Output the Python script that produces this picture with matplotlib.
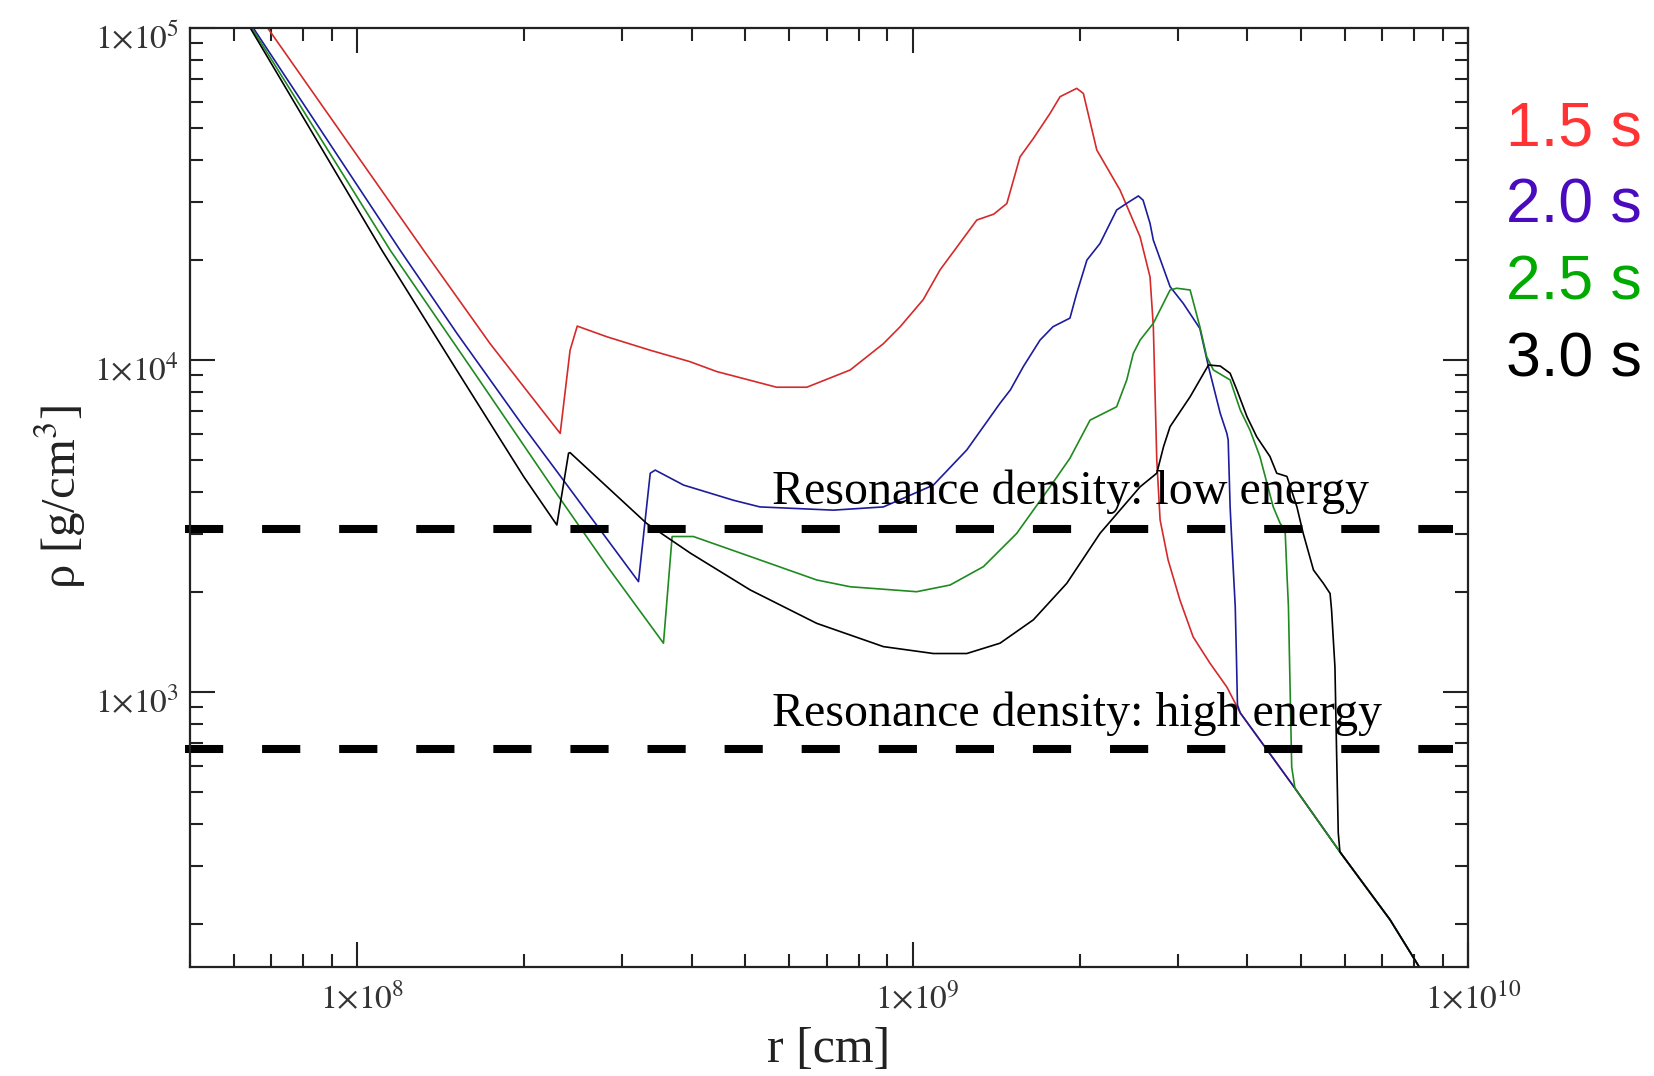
import matplotlib
matplotlib.use('Agg')
import matplotlib.pyplot as plt
from matplotlib.ticker import LogLocator, FuncFormatter, NullFormatter
from matplotlib.transforms import ScaledTranslation
import numpy as np

plt.rcParams['font.family'] = ['Liberation Serif', 'DejaVu Serif']
plt.rcParams['mathtext.fontset'] = 'stix'
plt.rcParams['lines.scale_dashes'] = False

# density profiles, r in cm, rho in g/cm^3
r_15 = [6.9e7, 1.317e8, 1.735e8, 2.32e8, 2.417e8, 2.49e8, 2.815e8, 3.37e8, 3.97e8, 4.44e8,
        5.69e8, 6.45e8, 7.72e8, 8.86e8, 9.5e8, 1.045e9, 1.121e9, 1.305e9, 1.40e9, 1.478e9,
        1.561e9, 1.65e9, 1.768e9, 1.843e9, 1.975e9, 2.03e9, 2.146e9, 2.363e9, 2.568e9, 2.676e9,
        2.713e9, 2.752e9, 2.79e9, 2.884e9, 3.03e9, 3.20e9, 3.43e9, 3.68e9, 3.89e9, 4.88e9,
        5.88e9, 7.24e9, 8.14e9]
rho_15 = [1.0e5, 21400, 11200, 6010, 10700, 12650, 11750, 10700, 9890, 9230,
          8280, 8280, 9330, 11200, 12600, 15200, 18700, 26400, 27500, 29600,
          40900, 46500, 55300, 62100, 65800, 63500, 42900, 32500, 23500, 17800,
          12600, 5000, 3300, 2500, 1890, 1465, 1222, 1035, 865, 513,
          330, 206, 150]

r_20 = [6.5e7, 1.195e8, 1.512e8, 1.993e8, 2.35e8, 3.21e8, 3.37e8, 3.44e8, 3.87e8, 4.76e8,
        5.31e8, 7.2e8, 8.86e8, 1.09e9, 1.252e9, 1.437e9, 1.50e9, 1.583e9, 1.696e9, 1.79e9,
        1.92e9, 1.975e9, 2.06e9, 2.175e9, 2.33e9, 2.43e9, 2.55e9, 2.60e9, 2.676e9, 2.713e9,
        2.908e9, 3.07e9, 3.29e9, 3.41e9, 3.58e9, 3.68e9, 3.70e9, 3.73e9, 3.755e9, 3.81e9,
        3.83e9, 3.845e9, 3.89e9, 4.88e9, 5.88e9, 7.24e9, 8.14e9]
rho_20 = [1.0e5, 21400, 12030, 6300, 4350, 2150, 4560, 4660, 4200, 3780,
          3610, 3530, 3610, 4200, 5360, 7410, 8130, 9560, 11480, 12600,
          13370, 15890, 20000, 22440, 28300, 29650, 31200, 30300, 25800, 22960,
          16630, 14820, 12450, 9550, 6910, 6010, 5740, 3610, 2870, 1807,
          1247, 915, 865, 513, 330, 206, 150]

r_25 = [6.46e7, 1.147e8, 1.643e8, 2.288e8, 2.815e8, 3.56e8, 3.69e8, 4.03e8, 5.1e8, 6.72e8,
        7.72e8, 1.017e9, 1.168e9, 1.341e9, 1.54e9, 1.768e9, 1.92e9, 2.087e9, 2.33e9, 2.43e9,
        2.497e9, 2.568e9, 2.713e9, 2.908e9, 2.99e9, 3.16e9, 3.29e9, 3.385e9, 3.48e9, 3.73e9,
        3.89e9, 4.05e9, 4.22e9, 4.46e9, 4.59e9, 4.685e9, 4.72e9, 4.75e9, 4.815e9, 4.88e9,
        5.88e9, 7.24e9, 8.14e9]
rho_25 = [1.0e5, 21400, 8910, 3950, 2400, 1403, 2940, 2940, 2560, 2175,
          2075, 2005, 2100, 2385, 3005, 4150, 5060, 6590, 7230, 8710,
          10470, 11480, 12900, 16250, 16450, 16250, 12600, 10230, 9330, 8710,
          7070, 6150, 5120, 3610, 3220, 3075, 2280, 1807, 594, 513,
          330, 206, 150]

r_30 = [6.42e7, 1.108e8, 1.512e8, 1.993e8, 2.288e8, 2.402e8, 2.417e8, 3.32e8, 3.98e8, 5.1e8,
        6.72e8, 8.86e8, 1.09e9, 1.252e9, 1.437e9, 1.65e9, 1.895e9, 2.175e9, 2.568e9, 2.752e9,
        2.83e9, 2.908e9, 3.16e9, 3.29e9, 3.41e9, 3.58e9, 3.73e9, 3.835e9, 4.0e9, 4.165e9,
        4.40e9, 4.525e9, 4.72e9, 4.92e9, 5.05e9, 5.27e9, 5.49e9, 5.645e9, 5.68e9, 5.76e9,
        5.80e9, 5.84e9, 5.88e9, 7.24e9, 8.14e9]
rho_30 = [1.0e5, 21400, 9300, 4460, 3185, 5240, 5260, 3220, 2620, 2030,
          1610, 1370, 1306, 1306, 1403, 1650, 2125, 3005, 4150, 4560,
          5480, 6300, 7750, 8710, 9660, 9590, 9120, 8130, 6750, 5870,
          5120, 4560, 4460, 3610, 3005, 2330, 2125, 1980, 1766, 1190,
          655, 376, 330, 206, 150]

line_colors = ['#d42a2a', '#1c1c9c', '#1f8a1f', '#000000']
legend_labels = ['1.5 s', '2.0 s', '2.5 s', '3.0 s']
legend_colors = ['#ff3333', '#4a0bbf', '#00aa00', '#000000']

res_rho = [3090, 673]
res_labels = ['Resonance density: low energy', 'Resonance density: high energy']
res_r_span = [4.9e7, 9.4e9]

fig = plt.figure(figsize=(16.54, 10.76), dpi=100)
ax = fig.add_axes([190/1654, 1 - 967/1076, 1278/1654, 939/1076])

for rr, dd, c in zip([r_15, r_20, r_25, r_30], [rho_15, rho_20, rho_25, rho_30], line_colors):
    ax.plot(rr, dd, color=c, lw=1.2)

for d in res_rho:
    ax.plot(res_r_span, [d, d], color='black', lw=5.8, dashes=(27.5, 28),
            solid_capstyle='butt', dash_capstyle='butt', clip_on=False)

ax.set_xscale('log')
ax.set_yscale('log')
ax.set_xlim(5e7, 1e10)
ax.set_ylim(148.5, 1e5)

fmt = FuncFormatter(lambda v, p: r'$1{\times}10^{%d}$' % round(np.log10(v)))
ax.xaxis.set_major_locator(LogLocator(base=10))
ax.yaxis.set_major_locator(LogLocator(base=10))
ax.xaxis.set_major_formatter(fmt)
ax.yaxis.set_major_formatter(fmt)
ax.xaxis.set_minor_locator(LogLocator(base=10, subs=np.arange(2, 10)))
ax.yaxis.set_minor_locator(LogLocator(base=10, subs=np.arange(2, 10)))
ax.xaxis.set_minor_formatter(NullFormatter())
ax.yaxis.set_minor_formatter(NullFormatter())

ax.tick_params(which='both', direction='in', top=True, right=True, width=1.5, colors='#222222',
               labelcolor='#333333')
ax.tick_params(which='major', length=18, labelsize=24)
ax.tick_params(which='minor', length=9.5)
ax.tick_params(axis='x', which='major', pad=11)
ax.tick_params(axis='y', which='major', pad=8)
for s in ax.spines.values():
    s.set_linewidth(1.6)
    s.set_color('#222222')

# xmgrace-like label placement: shift labels so the "1x10" part sits on the tick
for t in ax.yaxis.get_major_ticks():
    t.label1.set_transform(t.label1.get_transform() + ScaledTranslation(0, -0.07, fig.dpi_scale_trans))
for t in ax.xaxis.get_major_ticks():
    t.label1.set_transform(t.label1.get_transform() + ScaledTranslation(0.05, 0, fig.dpi_scale_trans))

for lab, d_base in zip(res_labels, [0.4931, 0.2567]):
    ax.text(0.4554, d_base, lab, transform=ax.transAxes, fontsize=34.5, va='baseline', ha='left')

fig.text(829/1654, 1 - 1050/1076, 'r [cm]', fontsize=36, ha='center', va='center', color='#222222')
fig.text(60/1654, 1 - 497/1076, 'ρ [g/cm$^{3}$]', fontsize=35, ha='center', va='center',
         rotation=90, color='#222222')

for i, (lab, c) in enumerate(zip(legend_labels, legend_colors)):
    fig.text(1642/1654, 1 - (129 + 77*i)/1076, lab, color=c, fontsize=45,
             family='Liberation Sans', ha='right', va='center')

fig.savefig('out.png', dpi=100)
